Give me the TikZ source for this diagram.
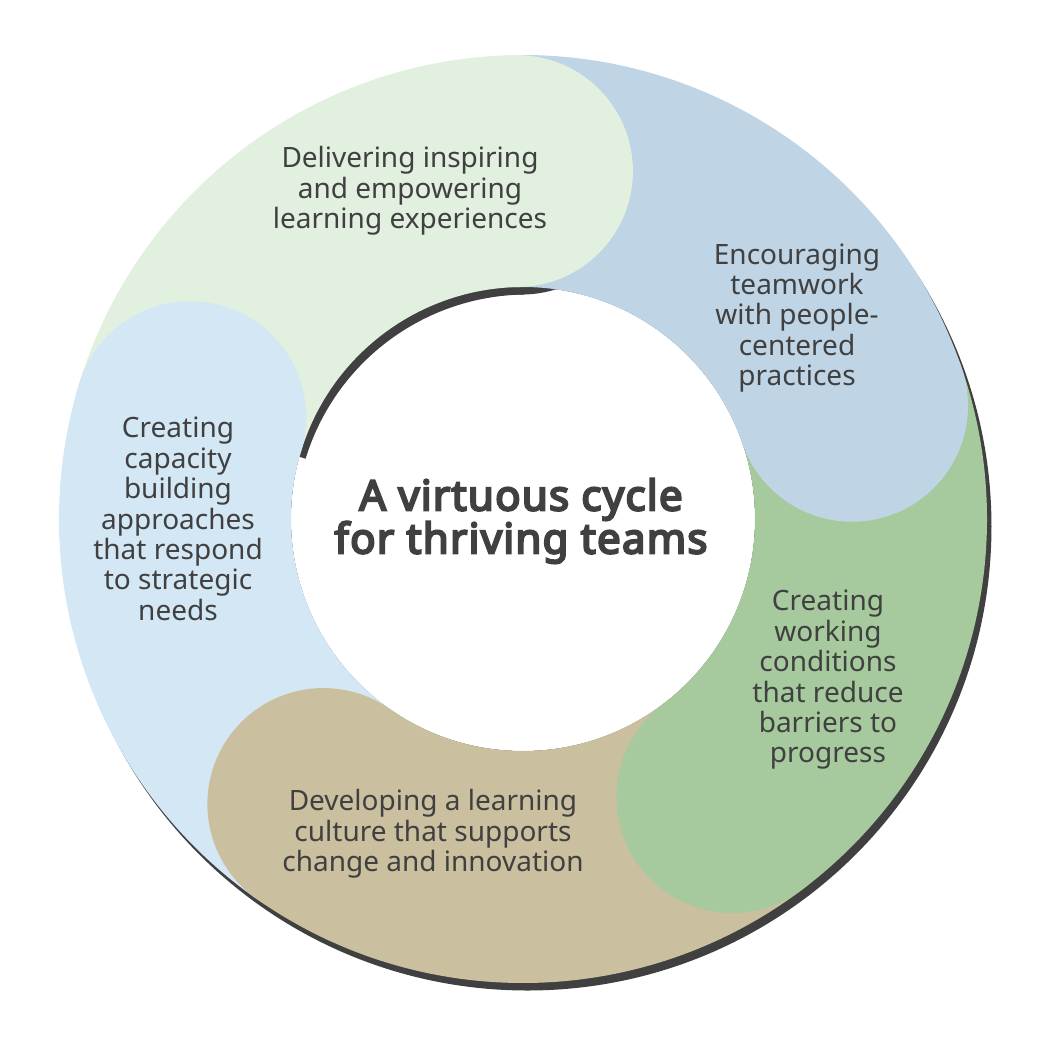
\documentclass[tikz,border=0pt]{standalone}
\usepackage{fontspec}
\setmainfont{Noto Sans}
\newfontfamily\titlefont{Noto Sans}[FakeBold=5, LetterSpace=3]
\usepackage{tikz}
\usetikzlibrary{shapes, positioning}
\usepackage{xcolor}
\definecolor{ringshadow}{HTML}{404040}
\definecolor{inkgray}{HTML}{404040}
\definecolor{deliverfill}{HTML}{E2F0E0}
\definecolor{teamfill}{HTML}{BFD4E5}
\definecolor{condfill}{HTML}{A6CA9D}
\definecolor{culturefill}{HTML}{CABF9F}
\definecolor{capfill}{HTML}{D4E7F5}
\tikzset{
    label text/.style={align=center, text=inkgray, font=\fontsize{14}{15.2}\selectfont},
}

\begin{document}
\begin{tikzpicture}[x=0.5pt, y=0.5pt]
        \useasboundingbox (-523,-537) rectangle (533,519);
        % shadow of the whole ring, the hole kept white
        \fill[ringshadow] (4.5,-7.5) circle (464);
        \fill[white] (0,0) circle (232);
        % shadow of the top piece
        \fill[ringshadow, shift={(4.5,-7.5)}] (163:464) arc[start angle=163, end angle=91, radius=464] -- (91:232) arc[start angle=91, end angle=163, radius=232] -- cycle;
        \fill[ringshadow, shift={(4.5,-7.5)}] (91:348) circle (116);
        % ring pieces
        \fill[deliverfill] (163:464) arc[start angle=163, end angle=91, radius=464] -- (91:232) arc[start angle=91, end angle=163, radius=232] -- cycle;
        \fill[teamfill] (91:464) arc[start angle=91, end angle=19, radius=464] -- (19:232) arc[start angle=19, end angle=91, radius=232] -- cycle;
        \fill[condfill] (19:464) arc[start angle=19, end angle=-53, radius=464] -- (-53:232) arc[start angle=-53, end angle=19, radius=232] -- cycle;
        \fill[culturefill] (-53:464) arc[start angle=-53, end angle=-125, radius=464] -- (-125:232) arc[start angle=-125, end angle=-53, radius=232] -- cycle;
        \fill[capfill] (-125:464) arc[start angle=-125, end angle=-197, radius=464] -- (-197:232) arc[start angle=-197, end angle=-125, radius=232] -- cycle;
        % round ends
        \fill[deliverfill] (91:348) circle (116);
        \fill[teamfill] (19:348) circle (116);
        \fill[condfill] (-53:348) circle (116);
        \fill[culturefill] (-125:348) circle (116);
        \fill[capfill] (163:348) circle (116);
        % texts
        \node[align=center, text=inkgray, font=\titlefont\fontsize{21}{21.5}\selectfont] (title) at (-2,-2) {A virtuous cycle\\for thriving teams};
        \node[label text] (deliver) at (-113,328) {Delivering inspiring\\and empowering\\learning experiences};
        \node[label text] (teamwork) at (274,201) {Encouraging\\teamwork\\with people-\\centered\\practices};
        \node[label text] (conditions) at (305,-161) {Creating\\working\\conditions\\that reduce\\barriers to\\progress};
        \node[label text] (culture) at (-90,-315) {Developing a learning\\culture that supports\\change and innovation};
        \node[label text] (capacity) at (-345,0) {Creating\\capacity\\building\\approaches\\that respond\\to strategic\\needs};
    \end{tikzpicture}
\end{document}
